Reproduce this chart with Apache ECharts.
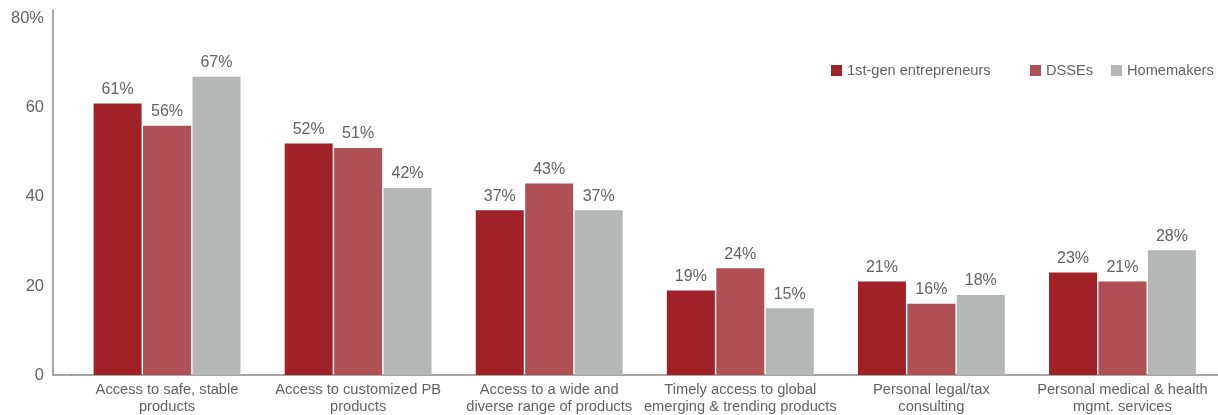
<!DOCTYPE html>
<html>
<head>
<meta charset="utf-8">
<script src="https://cdn.jsdelivr.net/npm/echarts@6/dist/echarts.min.js"></script>
<style>
  html, body { margin: 0; padding: 0; background: #fff; }
  #chart { width: 1218px; height: 415px; }
</style>
</head>
<body>
<div id="chart"></div>
<script>
// Service needs by segment (share of respondents, %)
const categories = [
  'Access to safe, stable\nproducts',
  'Access to customized PB\nproducts',
  'Access to a wide and\ndiverse range of products',
  'Timely access to global\nemerging & trending products',
  'Personal legal/tax\nconsulting',
  'Personal medical & health\nmgmt. services'
];
const seriesNames = ['1st-gen entrepreneurs', 'DSSEs', 'Homemakers'];
const firstGen = [61, 52, 37, 19, 21, 23];
const dsses = [56, 51, 43, 24, 16, 21];
const homemakers = [67, 42, 37, 15, 18, 28];
const yTicks = [0, 20, 40, 60, 80];

const colors = ['#A02226', '#AF4F56', '#B5B6B6'];
const textColor = '#636363';
const axisColor = '#8a8a8a';
const font = 'Liberation Sans, Arial, sans-serif';

const chart = echarts.init(document.getElementById('chart'), null, { renderer: 'canvas' });

function bar(name, data, color) {
  return {
    name: name,
    type: 'bar',
    data: data,
    barWidth: 48,
    barGap: '3%',
    itemStyle: { color: color },
    label: {
      show: true,
      position: 'top',
      distance: 6,
      formatter: '{c}%',
      color: textColor,
      fontFamily: font,
      fontSize: 16
    }
  };
}

const legendBase = {
  top: 58,
  itemWidth: 11,
  itemHeight: 11,
  icon: 'rect',
  textStyle: { color: textColor, fontFamily: font, fontSize: 14.6 }
};

chart.setOption({
  animation: false,
  textStyle: { fontFamily: font },
  legend: [
    Object.assign({ left: 826, data: [seriesNames[0]] }, legendBase),
    Object.assign({ left: 1025, data: [seriesNames[1]] }, legendBase),
    Object.assign({ left: 1106, data: [seriesNames[2]] }, legendBase)
  ],
  grid: { left: 71.5, right: 0, top: 10, bottom: 40 },
  xAxis: {
    type: 'category',
    data: categories,
    axisLine: { lineStyle: { color: axisColor, width: 1.5 } },
    axisTick: { show: false },
    axisLabel: {
      color: textColor,
      fontFamily: font,
      fontSize: 14.7,
      lineHeight: 17,
      margin: 6,
      interval: 0
    }
  },
  yAxis: {
    type: 'value',
    min: yTicks[0],
    max: 82,
    interval: 20,
    offset: 18.5,
    axisLine: { show: true, lineStyle: { color: axisColor, width: 1.5 } },
    axisTick: { show: false },
    splitLine: { show: false },
    axisLabel: {
      color: textColor,
      fontFamily: font,
      fontSize: 16.5,
      margin: 9,
      showMaxLabel: false,
      formatter: v => (v === yTicks[yTicks.length - 1] ? v + '%' : (yTicks.indexOf(v) >= 0 ? String(v) : ''))
    }
  },
  graphic: [{
    // extend the baseline left to meet the offset value axis
    type: 'line',
    shape: { x1: 52.5, y1: 375, x2: 72, y2: 375 },
    style: { stroke: axisColor, lineWidth: 1.5 },
    silent: true
  }],
  series: [
    bar(seriesNames[0], firstGen, colors[0]),
    bar(seriesNames[1], dsses, colors[1]),
    bar(seriesNames[2], homemakers, colors[2])
  ]
});
</script>
</body>
</html>
